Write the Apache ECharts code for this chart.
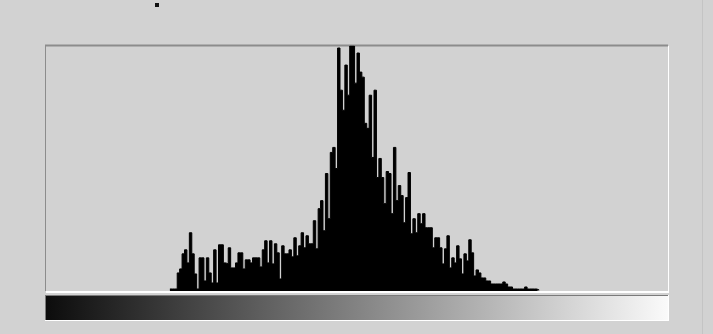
<!DOCTYPE html>
<html>
<head>
<meta charset="utf-8">
<script src="https://cdn.jsdelivr.net/npm/echarts@6/dist/echarts.min.js"></script>
<style>
  html, body { margin: 0; padding: 0; background: #d2d2d2; }
  #main { width: 713px; height: 334px; }
</style>
</head>
<body>
<div id="main"></div>
<script>
// histogram: 256 levels, counts only non-zero from level 51 to 202
var firstLevel = 51;
var counts = [
  2, 2, 2, 18, 22, 37, 41, 28, 58, 37,
  17, 2, 33, 33, 10, 33, 18, 8, 41, 8,
  46, 46, 28, 27, 43, 23, 23, 28, 38, 38,
  22, 31, 31, 28, 33, 33, 33, 24, 41, 50,
  28, 50, 27, 47, 38, 12, 45, 37, 37, 41,
  34, 53, 35, 45, 58, 43, 55, 47, 47, 70,
  42, 82, 90, 60, 117, 72, 138, 143, 122, 242,
  200, 180, 225, 195, 244, 244, 207, 237, 218, 213,
  167, 162, 195, 133, 200, 113, 132, 113, 87, 119,
  117, 77, 143, 90, 105, 95, 68, 93, 118, 57,
  72, 58, 77, 67, 77, 63, 63, 63, 43, 53,
  53, 43, 27, 42, 55, 23, 33, 28, 45, 32,
  17, 37, 30, 51, 38, 15, 21, 18, 13, 13,
  10, 10, 7, 7, 7, 7, 7, 9, 7, 4,
  4, 2, 2, 2, 2, 2, 4, 2, 2, 2,
  2, 1
];
var levels = [];
var histData = [];
for (var i = 0; i < 256; i++) {
    levels.push(String(i));
    var j = i - firstLevel;
    histData.push(j >= 0 && j < counts.length ? counts[j] : null);
}

var chart = echarts.init(document.getElementById('main'));
var option = {
    animation: false,
    backgroundColor: '#d2d2d2',
    grid: { left: 46, right: 45, top: 46, bottom: 43 },
    xAxis: {
        type: 'category',
        data: levels,
        show: false,
        boundaryGap: true
    },
    yAxis: {
        type: 'value',
        min: 0,
        max: 244,
        show: false
    },
    graphic: [
        // sunken frame of the plot
        { type: 'line', shape: { x1: 45, y1: 45.5, x2: 668, y2: 45.5 }, style: { stroke: '#8c8c8c', lineWidth: 2 } },
        { type: 'line', shape: { x1: 45.5, y1: 45, x2: 45.5, y2: 291 }, style: { stroke: '#8c8c8c', lineWidth: 1 } },
        { type: 'line', shape: { x1: 46, y1: 292, x2: 669, y2: 292 }, style: { stroke: '#ffffff', lineWidth: 2 } },
        { type: 'line', shape: { x1: 668.5, y1: 46, x2: 668.5, y2: 292 }, style: { stroke: '#ffffff', lineWidth: 1 } },
        // grey ramp below the histogram
        {
            type: 'rect',
            shape: { x: 46, y: 296, width: 622, height: 24 },
            style: {
                fill: new echarts.graphic.LinearGradient(0, 0, 1, 0, [
                    { offset: 0, color: '#0c0c0c' },
                    { offset: 1, color: '#fafafa' }
                ])
            }
        },
        { type: 'line', shape: { x1: 45, y1: 295.5, x2: 669, y2: 295.5 }, style: { stroke: '#7a7a7a', lineWidth: 1 } },
        { type: 'line', shape: { x1: 45.5, y1: 295, x2: 45.5, y2: 321 }, style: { stroke: '#7a7a7a', lineWidth: 1 } },
        { type: 'line', shape: { x1: 45, y1: 320.5, x2: 669, y2: 320.5 }, style: { stroke: '#ffffff', lineWidth: 1 } },
        { type: 'line', shape: { x1: 668.5, y1: 295, x2: 668.5, y2: 321 }, style: { stroke: '#ffffff', lineWidth: 1 } },
        // small dark speck at the top
        { type: 'rect', shape: { x: 155, y: 3, width: 4, height: 4 }, style: { fill: '#111111' } },
        // faint edge on the right side
        { type: 'line', shape: { x1: 702.5, y1: 0, x2: 702.5, y2: 334 }, style: { stroke: '#c4c4c4', lineWidth: 1 } }
    ],
    series: [{
        type: 'line',
        data: histData,
        step: 'middle',
        symbol: 'none',
        connectNulls: false,
        lineStyle: { color: '#000000', width: 1 },
        areaStyle: { color: '#000000', opacity: 1 },
        silent: true
    }]
};
chart.setOption(option);
</script>
</body>
</html>
